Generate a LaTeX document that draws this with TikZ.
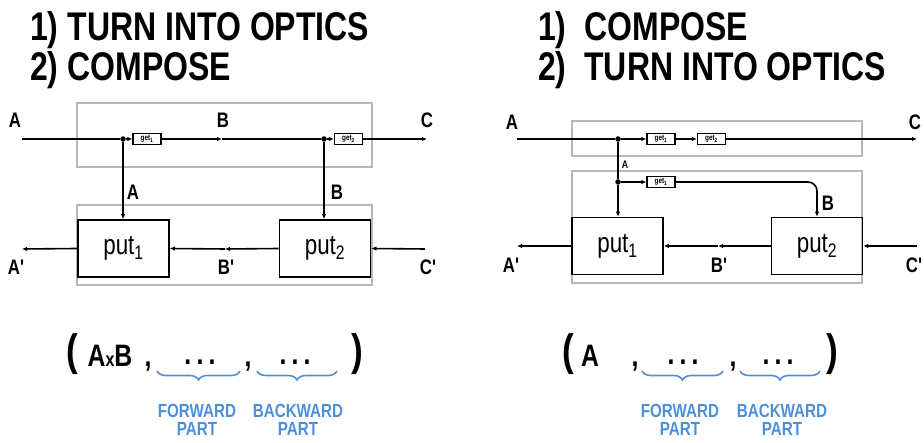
\documentclass[tikz,border=0pt]{standalone}
\usepackage{fontspec}
\usepackage{tikz}
\usetikzlibrary{arrows.meta}
\usetikzlibrary{decorations.pathreplacing}
\newfontfamily\hand[FakeStretch=0.8]{Liberation Sans}
\definecolor{bracecol}{RGB}{77,144,217}

\begin{document}
\begin{tikzpicture}[x=1pt, y=-1pt,
  wire/.style={line width=1.6pt},
  arr/.style={wire, -{Latex[length=5pt,width=4.5pt]}},
  frame/.style={draw=black!28, line width=1.4pt},
  getbox/.style={draw, line width=1.3pt, minimum width=28pt, minimum height=11pt, inner sep=0pt, font=\hand\bfseries\fontsize{8}{8}\selectfont},
  putbox/.style={draw, line width=1.6pt, minimum width=91pt, minimum height=57pt, inner sep=0pt, font=\hand\fontsize{28}{28}\selectfont},
  lbl/.style={inner sep=0pt, font=\hand\bfseries\fontsize{21}{21}\selectfont},
  junct/.style={circle, fill, inner sep=0pt, minimum size=5.5pt},
  title/.style={anchor=north west, align=left, inner sep=0pt, font=\hand\bfseries\fontsize{40}{40}\selectfont},
  tuple/.style={anchor=base, inner sep=0pt, font=\hand\bfseries\fontsize{31}{31}\selectfont},
  paren/.style={anchor=base, inner sep=0pt, font=\hand\bfseries\fontsize{44}{44}\selectfont},
  part/.style={align=center, inner sep=0pt, text=bracecol, font=\hand\bfseries\fontsize{19}{18}\selectfont},
  curly/.style={draw=bracecol, line width=1.6pt, decorate, decoration={brace, mirror, amplitude=9pt}}
]

\useasboundingbox (0,0) rectangle (924,443);

\node[title] (titleL) at (30,11) {1) TURN INTO OPTICS\\2) COMPOSE};
\node[title] (titleR) at (538,11) {1)\ \ COMPOSE\\2)\ \ TURN INTO OPTICS};

\draw[frame] (77,103) rectangle (372,167);
\draw[frame] (77,205) rectangle (372,285);

\node[getbox] (getL1) at (147,139) {get\textsubscript{1}};
\node[getbox] (getL2) at (348.5,139) {get\textsubscript{2}};
\node[putbox] (putL1) at (123.5,248.5) {put\textsubscript{1}};
\node[putbox] (putL2) at (325,248.5) {put\textsubscript{2}};
\node[junct] (dotL1) at (123,139) {};
\node[junct] (dotL2) at (324,139) {};
\coordinate (inLA) at (22,139);
\coordinate (midLB) at (222,139);
\coordinate (outLC) at (427,139);
\coordinate (outLA) at (22,249);
\coordinate (midLBb) at (225,249);
\coordinate (inLC) at (425,249);

\draw[wire] (inLA) -- (dotL1);
\draw[arr] (dotL1) -- (getL1);
\draw[arr] (getL1) -- (midLB);
\draw[wire] (midLB) -- (dotL2);
\draw[arr] (dotL2) -- (getL2);
\draw[arr] (getL2) -- (outLC);
\draw[arr] (dotL1) -- (dotL1 |- putL1.north);
\draw[arr] (dotL2) -- (dotL2 |- putL2.north);
\draw[arr] (putL1.west) -- (outLA);
\draw[arr] (putL2.west) -- (midLBb);
\draw[arr] (midLBb) -- (putL1.east);
\draw[arr] (inLC) -- (putL2.east);

\node[lbl] (labLA) at (15,120) {A};
\node[lbl] (labLB) at (223,120) {B};
\node[lbl] (labLC) at (427,120) {C};
\node[lbl] (labLA2) at (133,192) {A};
\node[lbl] (labLB2) at (337,192) {B};
\node[lbl] (labLAp) at (16,267) {A'};
\node[lbl] (labLBp) at (226,267) {B'};
\node[lbl] (labLCp) at (428,267) {C'};

\draw[frame] (572,121) rectangle (862,156);
\draw[frame] (572,171) rectangle (862,283);

\node[getbox] (getR1) at (661,139) {get\textsubscript{1}};
\node[getbox] (getR2) at (711.5,139) {get\textsubscript{2}};
\node[getbox] (getR3) at (661,182) {get\textsubscript{1}};
\node[putbox] (putR1) at (617.5,246) {put\textsubscript{1}};
\node[putbox] (putR2) at (817,246) {put\textsubscript{2}};
\node[junct] (dotR1) at (618,139) {};
\node[junct] (dotR2) at (618,182) {};
\coordinate (inRA) at (517,139);
\coordinate (outRC) at (917,139);
\coordinate (outRA) at (517,246);
\coordinate (midRB) at (718,246);
\coordinate (inRC) at (917,246);

\draw[wire] (inRA) -- (dotR1);
\draw[arr] (dotR1) -- (getR1);
\draw[arr] (getR1) -- (getR2);
\draw[arr] (getR2) -- (outRC);
\draw[wire] (dotR1) -- (dotR2);
\draw[arr] (dotR2) -- (dotR2 |- putR1.north);
\draw[arr] (dotR2) -- (getR3);
\draw[arr, rounded corners=9pt] (getR3) -| (putR2.north);
\draw[arr] (putR1.west) -- (outRA);
\draw[arr] (putR2.west) -- (midRB);
\draw[arr] (midRB) -- (putR1.east);
\draw[arr] (inRC) -- (putR2.east);

\node[lbl] (labRA) at (512,122) {A};
\node[lbl] (labRC) at (915,122) {C};
\node[lbl, font=\hand\bfseries\fontsize{11}{11}\selectfont] (labRA2) at (625,165) {A};
\node[lbl] (labRB) at (828,203) {B};
\node[lbl] (labRAp) at (511,265) {A'};
\node[lbl] (labRBp) at (719,265) {B'};
\node[lbl] (labRCp) at (914,265) {C'};

\node[paren] (lpL) at (72,366) {(};
\node[tuple] (tupLA) at (110,367) {A{\fontsize{20}{20}\selectfont x}B};
\node[tuple] (cmL1) at (148,367) {,};
\node[tuple] (dotsL1) at (200,365) {.\,.\,.};
\node[tuple] (cmL2) at (248,367) {,};
\node[tuple] (dotsL2) at (295,365) {.\,.\,.};
\node[paren] (rpL) at (357,366) {)};
\coordinate (fwdLa) at (157,371);
\coordinate (fwdLb) at (240,371);
\coordinate (bwdLa) at (257,371);
\coordinate (bwdLb) at (337,371);
\draw[curly] (fwdLa) -- (fwdLb);
\draw[curly] (bwdLa) -- (bwdLb);
\node[part] (fwdL) at (197,420) {FORWARD\\PART};
\node[part] (bwdL) at (298,420) {BACKWARD\\PART};

\node[paren] (lpR) at (568,366) {(};
\node[tuple] (tupRA) at (590,367) {A};
\node[tuple] (cmR1) at (635,367) {,};
\node[tuple] (dotsR1) at (683,365) {.\,.\,.};
\node[tuple] (cmR2) at (733,367) {,};
\node[tuple] (dotsR2) at (778,365) {.\,.\,.};
\node[paren] (rpR) at (832,366) {)};
\coordinate (fwdRa) at (642,371);
\coordinate (fwdRb) at (723,371);
\coordinate (bwdRa) at (740,371);
\coordinate (bwdRb) at (820,371);
\draw[curly] (fwdRa) -- (fwdRb);
\draw[curly] (bwdRa) -- (bwdRb);
\node[part] (fwdR) at (680,420) {FORWARD\\PART};
\node[part] (bwdR) at (782,420) {BACKWARD\\PART};

\end{tikzpicture}
\end{document}
